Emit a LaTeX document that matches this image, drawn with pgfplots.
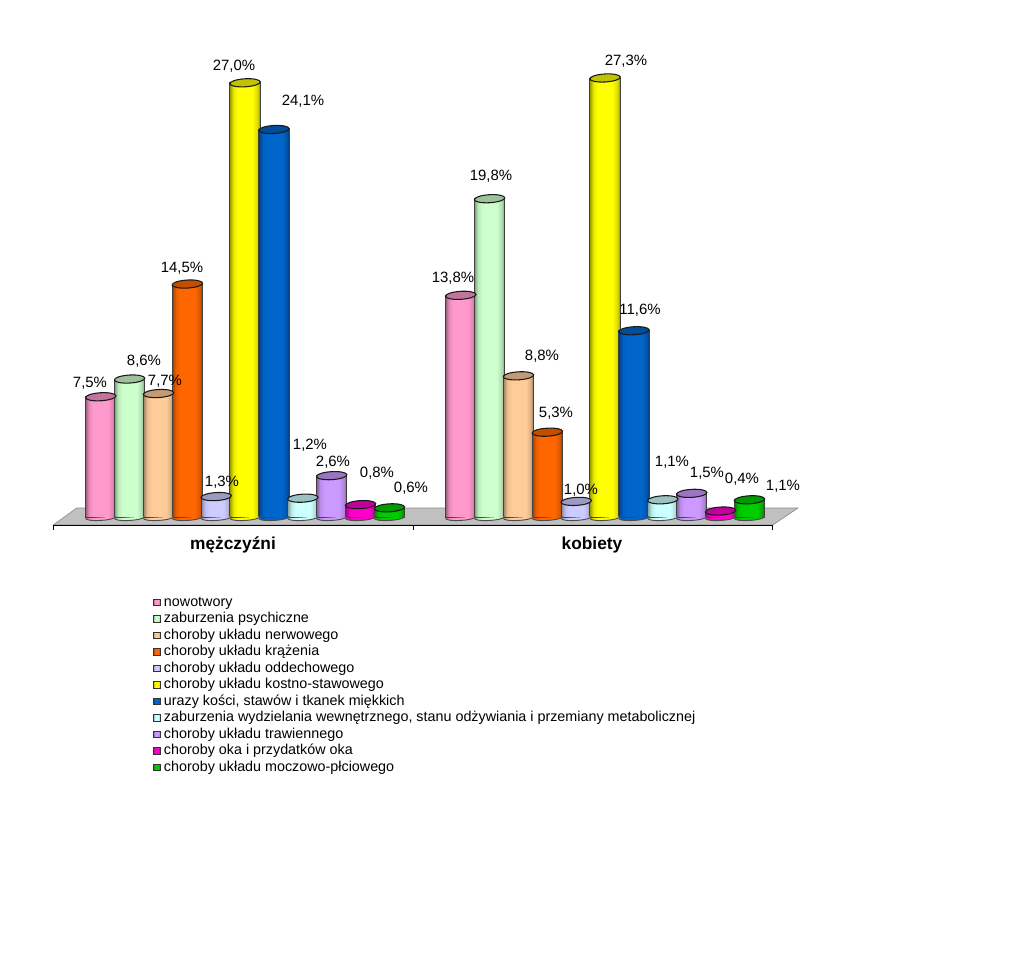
\documentclass[border=0pt]{standalone}
\usepackage{pgfplots}
\usepackage{pgfplotstable}
\usepackage{fontspec}
\setmainfont{Liberation Sans}
\pgfplotsset{compat=1.18}
\pgfplotstableread{
g s1 s2 s3 s4 s5 s6 s7 s8 s9 s10 s11
0 7.5 8.6 7.7 14.5 1.3 27.0 24.1 1.2 2.6 0.8 0.6
1 13.8 19.8 8.8 5.3 1.0 27.3 11.6 1.1 1.5 0.4 1.1
}\datatab
\definecolor{floorc}{HTML}{C0C0C0}
\newcommand\defcyl[2]{%
  \definecolor{c#1}{HTML}{#2}%
  \colorlet{d#1}{c#1!76!black}%
  \pgfdeclarehorizontalshading{cyl#1}{100bp}{%
    color(0bp)=(c#1!62!black);color(25bp)=(c#1!62!black);color(31bp)=(c#1!92!black);color(38bp)=(c#1);
    color(62bp)=(c#1);color(70bp)=(c#1!86!black);color(75bp)=(c#1!58!black);color(100bp)=(c#1!58!black)}%
  \pgfdeclareplotmark{top#1}{%
    \pgfsetlinewidth{0.8pt}\pgfsetstrokecolor{black!90}\pgfsetfillcolor{d#1}%
    \pgfpathellipse{\pgfpointorigin}{\pgfqpoint{11.38pt}{0.68pt}}{\pgfqpoint{-0.18pt}{3pt}}%
    \pgfusepathqfillstroke}%
  \pgfdeclareplotmark{bot#1}{%
    \pgfsetlinewidth{0.7pt}\pgfsetstrokecolor{black!70}%
    \pgftransformrotate{3.5}%
    \pgfpathmoveto{\pgfqpoint{-11.4pt}{0pt}}\pgfpatharc{180}{360}{11.4pt and 2.2pt}\pgfpathclose
    \pgfshadepath{cyl#1}{0}\pgfusepath{discard}%
    \pgfpathmoveto{\pgfqpoint{-11.4pt}{0pt}}\pgfpatharc{180}{360}{11.4pt and 2.2pt}%
    \pgfusepathqstroke}%
}
\defcyl{1}{FF99CC}
\defcyl{2}{CCFFCC}
\defcyl{3}{FFCC99}
\defcyl{4}{FF6600}
\defcyl{5}{CCCCFF}
\defcyl{6}{FFFF00}
\defcyl{7}{0066CC}
\defcyl{8}{CCFFFF}
\defcyl{9}{CC99FF}
\defcyl{10}{FF00CC}
\defcyl{11}{00CC00}
\newcommand\lab[3]{\node[font=\fontsize{11.2}{13}\selectfont,inner sep=0pt] at (axis cs:{(#1-244.6)/360},{(516.5-#2)/16.1}) {#3};}
\begin{document}
\begin{tikzpicture}
\begin{axis}[
  x=270pt, y=12.075pt,
  xmin=-0.67944, xmax=2.16500,
  ymin=-27.05, ymax=32.143,
  hide axis, clip=false,
  legend style={draw=none,fill=none,at={(axis cs:-0.2544,-4.876)},anchor=north west,
    font=\fontsize{10.75}{12}\selectfont,
    nodes={inner sep=0pt,text height=7.6pt,text depth=2.1pt},
    row sep=2.675pt,column sep=0pt,inner sep=0pt,outer sep=0pt},
  legend cell align=left,
  legend entries={nowotwory,zaburzenia psychiczne,choroby układu nerwowego,choroby układu krążenia,choroby układu oddechowego,choroby układu kostno-stawowego,{urazy kości, stawów i tkanek miękkich},{zaburzenia wydzielania wewnętrznego, stanu odżywiania i przemiany metabolicznej},choroby układu trawiennego,choroby oka i przydatków oka,choroby układu moczowo-płciowego},
]
\addplot[fill=floorc,draw=black!45,line width=0.5pt,forget plot] coordinates {(-0.5314,-0.466)(-0.4664,0.59)(1.5372,0.59)(1.4669,-0.466)} -- cycle;
\addplot[black,line width=0.6pt,forget plot] coordinates {(-0.5314,-0.777)(-0.5314,-0.466)(1.4669,-0.466)(1.4669,-0.777)};
\addplot[black,line width=0.6pt,forget plot] coordinates {(0.4678,-0.466)(0.4678,-0.777)};
\pgfplotsinvokeforeach{1,...,11}{
  \addplot[only marks,mark=bot#1,forget plot] table[x expr=\thisrow{g}+0.0014+(#1-6)*0.08019,y expr=0]{\datatab};
  \addplot[ybar,bar width=22.8pt,bar shift=0pt,draw=black!75,line width=0.65pt,shade,shading=cyl#1,
    mark=top#1,skip coords between index={1}{2},
    legend image code/.code={\draw[fill=c#1,draw=black!80,line width=0.6pt] (0pt,-2.4pt) rectangle (5pt,2.6pt);\path (7.6pt,0);}]
    table[x expr=\thisrow{g}+0.0014+(#1-6)*0.08019,y=s#1]{\datatab};
  \addplot[ybar,bar width=22.8pt,bar shift=0pt,draw=black!75,line width=0.65pt,shade,shading=cyl#1,
    mark=top#1,skip coords between index={0}{1},forget plot]
    table[x expr=\thisrow{g}+0.0014+(#1-6)*0.08019,y=s#1]{\datatab};
}
\lab{90}{382}{7,5\%}
\lab{144}{360}{8,6\%}
\lab{165}{380}{7,7\%}
\lab{182}{267}{14,5\%}
\lab{222}{481}{1,3\%}
\lab{234}{65}{27,0\%}
\lab{303}{100}{24,1\%}
\lab{310}{444}{1,2\%}
\lab{333}{461}{2,6\%}
\lab{377}{472}{0,8\%}
\lab{411}{487}{0,6\%}
\lab{453}{277}{13,8\%}
\lab{491}{175}{19,8\%}
\lab{542}{355}{8,8\%}
\lab{556}{412}{5,3\%}
\lab{581}{489}{1,0\%}
\lab{626}{60}{27,3\%}
\lab{640}{309}{11,6\%}
\lab{672}{461}{1,1\%}
\lab{707}{472}{1,5\%}
\lab{742}{478}{0,4\%}
\lab{783}{485}{1,1\%}
\node[font=\fontsize{13}{15}\bfseries\selectfont,inner sep=0pt] at (axis cs:{(233-244.6)/360},{(517.5-545)/16.1}) {mężczyźni};
\node[font=\fontsize{13}{15}\bfseries\selectfont,inner sep=0pt] at (axis cs:{(592-244.6)/360},{(517.5-545)/16.1}) {kobiety};
\path (axis cs:-0.67944,-27.05) rectangle (axis cs:2.165,32.143);
\end{axis}
\end{tikzpicture}
\end{document}
